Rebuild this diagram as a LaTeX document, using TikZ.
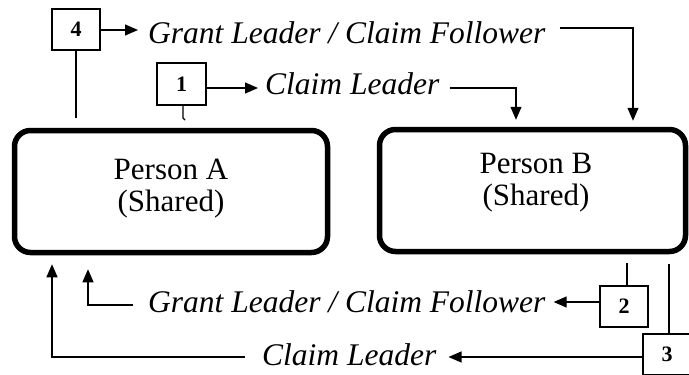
\documentclass[tikz,border=0pt]{standalone}
\usepackage{fontspec}
\setmainfont{Liberation Serif}
\newfontfamily\stepfont[Scale=1.0]{Liberation Serif Bold}
\usetikzlibrary{arrows.meta}
\newcommand\stepno[2][-4pt]{\raisebox{#1}{\fontsize{22}{22}\stepfont #2}}
\begin{document}
\begin{tikzpicture}[x=1pt,y=-1pt,
  person/.style={draw, line width=5.5pt, rounded corners=16pt,
    minimum width=#1, minimum height=122pt, inner sep=0pt},
  who/.style={align=center, inner sep=0pt, font=\fontsize{31}{32}\selectfont},
  numbox/.style={draw, line width=1.2pt, minimum width=48pt, minimum height=41pt,
    inner sep=0pt},
  role/.style={anchor=base west, inner sep=0pt, font=\fontsize{31.5}{32}\selectfont\itshape},
  link/.style={line width=1.2pt},
  arr/.style={link, -{Triangle[length=13pt,width=11pt]}}]
\useasboundingbox (0,0) rectangle (689,375);

% the two shared persons
\node[person=313pt] (A) at (171,191.5) {};
\node[who] at (171,189) {Person A\\(Shared)};
\node[person=306pt] (B) at (532.5,190.5) {};
\node[who] at (536,183) {Person B\\(Shared)};

% numbered steps
\node[numbox] (n4) at (76,29.5)    {\stepno[-5pt]{4}};
\node[numbox, minimum width=49pt, minimum height=42pt] (n1) at (181.5,84) {\stepno{1}};
\node[numbox] (n2) at (624,306.5)  {\stepno{2}};
\node[numbox] (n3) at (667,354.5)  {\stepno{3}};

% role labels
\node[role] (tg1) at (148,43)  {Grant Leader / Claim Follower};
\node[role] (tc1) at (265,94)  {Claim Leader};
\node[role] (tg2) at (148,312) {Grant Leader / Claim Follower};
\node[role] (tc2) at (262,365) {Claim Leader};

% step 4: A grants to B
\draw[link] (n4.south) -- ([yshift=10pt]n4.south |- A.north);
\draw[arr] (n4.east |- 0,30) -- ([xshift=-10pt]tg1.west |- 0,30);
\draw[arr] ([xshift=14pt]tg1.east |- 0,28) -- (633,28) -- ([yshift=6pt]B.north -| 633,0);

% step 1: A claims for B
\draw[link] (183,0 |- n1.south) -- (183,118) -- (185,120);
\draw[arr] (n1.east |- 0,88) -- ([xshift=-7pt]tc1.west |- 0,88);
\draw[arr] ([xshift=10pt]tc1.east |- 0,88) -- (516,88) -- ([yshift=7pt]B.north -| 516,0);

% step 2: B grants back to A
\draw[link] ([yshift=-9pt]B.south -| 627,0) -- (627,0 |- n2.north);
\draw[arr] (n2.west |- 0,302) -- ([xshift=8pt]tg2.east |- 0,302);
\draw[arr] ([xshift=-15pt]tg2.west |- 0,305) -- (88,305) -- ([yshift=-14pt]A.south -| 88,0);

% step 3: B claims back for A
\draw[link] ([yshift=-10pt]B.south -| 669,0) -- (669,0 |- n3.north);
\draw[arr] (n3.west |- 0,357) -- ([xshift=12pt]tc2.east |- 0,357);
\draw[arr] ([xshift=-17pt]tc2.west |- 0,357) -- (52,357) -- ([yshift=-9pt]A.south -| 52,0);
\end{tikzpicture}
\end{document}
